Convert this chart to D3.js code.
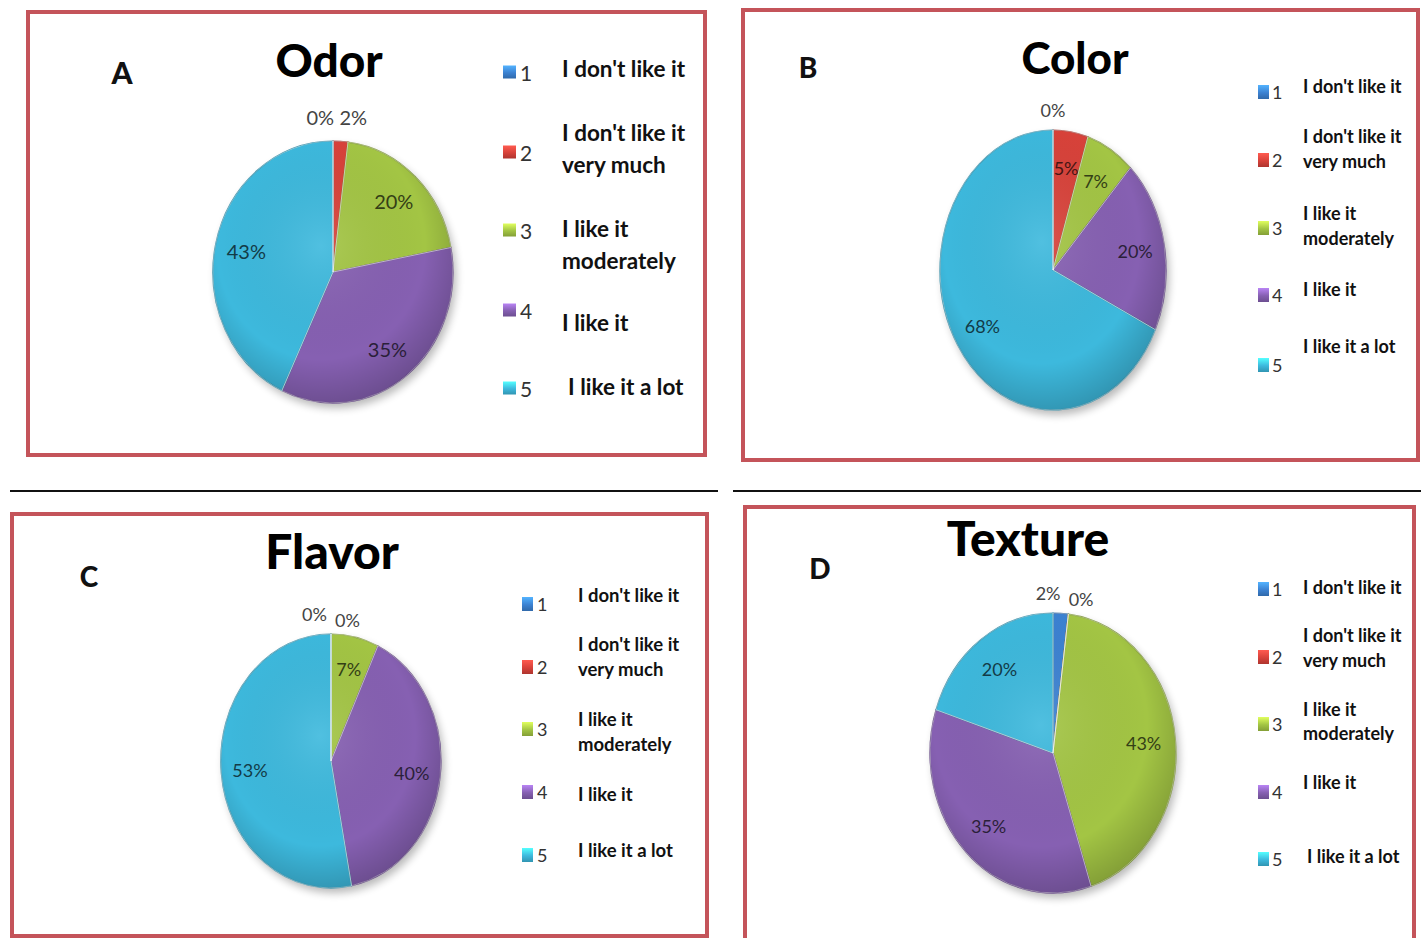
<!DOCTYPE html>
<html>
<head>
<meta charset="utf-8">
<script src="https://cdn.jsdelivr.net/npm/d3@7/dist/d3.min.js"></script>
<style>
  html, body { margin: 0; padding: 0; background: #fff; }
  svg { display: block; }
</style>
</head>
<body>
<svg id="chart" width="1421" height="938"></svg>
<script>
// Survey answers, one value per response category (percent of panellists)
const categories = ["1", "2", "3", "4", "5"];
const categoryLabels = [
  ["I don't like it"],
  ["I don't like it", "very much"],
  ["I like it", "moderately"],
  ["I like it"],
  ["I like it a lot"]
];
const chartTitles = ["Odor", "Color", "Flavor", "Texture"];
const panelLetters = ["A", "B", "C", "D"];
const odorValues = [0, 2, 20, 35, 43];
const colorValues = [0, 5, 7, 20, 68];
const flavorValues = [0, 0, 7, 40, 53];
const textureValues = [2, 0, 43, 35, 20];
const seriesValues = [odorValues, colorValues, flavorValues, textureValues];

// Office-style slice palette
const sliceColors = ["#3c82d2", "#d8423a", "#a3c544", "#8660b2", "#3db9dd"];

// Layout of the four framed panels
const panels = [
  { box: [28, 12, 705, 455], cx: 333, cy: 272, rx: 120, ry: 131,
    title: [329, 77, 46], letter: [122, 84, 30], labelSize: 20,
    legend: { swX: 503, swW: 13, swH: 13, numX: 520, numSize: 21, textX: 562, textSize: 22.5,
      rows: [[72, [68]], [152, [132, 164]], [230, [228, 260]], [310, [322]], [388, [386], 6]] } },
  { box: [743, 10, 1418, 460], cx: 1053, cy: 270, rx: 113, ry: 140,
    title: [1075, 74, 44], letter: [808, 78, 28], labelSize: 18,
    legend: { swX: 1258, swW: 11, swH: 14, numX: 1272, numSize: 18, textX: 1303, textSize: 18,
      rows: [[92, [86]], [160, [136, 161]], [228, [213, 238]], [295, [289]], [365, [346]]] } },
  { box: [12, 514, 707, 936], cx: 331, cy: 761, rx: 110, ry: 127,
    title: [332, 569, 48], letter: [89, 587, 28], labelSize: 18,
    legend: { swX: 522, swW: 11, swH: 14, numX: 537, numSize: 18, textX: 578, textSize: 18.5,
      rows: [[604, [595]], [667, [644, 669]], [729, [719, 744]], [792, [794]], [855, [850]]] } },
  { box: [745, 507, 1414, 970], cx: 1053, cy: 753, rx: 123, ry: 140,
    title: [1028, 556, 48], letter: [820, 579, 28], labelSize: 18,
    legend: { swX: 1258, swW: 11, swH: 14, numX: 1272, numSize: 18, textX: 1303, textSize: 18,
      rows: [[589, [587]], [657, [635, 660]], [724, [709, 733]], [792, [782]], [859, [856], 4]] } }
];

const svg = d3.select("#chart");
const defs = svg.append("defs");

// soft drop shadow under each pie
defs.append("filter").attr("id", "pieShadow")
  .attr("x", "-20%").attr("y", "-20%").attr("width", "140%").attr("height", "140%")
  .append("feGaussianBlur").attr("stdDeviation", 4);

// rim darkening over the pie face
const rim = defs.append("radialGradient").attr("id", "pieRim")
  .attr("cx", "45%").attr("cy", "40%").attr("r", "62%");
rim.append("stop").attr("offset", "0%").attr("stop-color", "#fff").attr("stop-opacity", 0.1);
rim.append("stop").attr("offset", "70%").attr("stop-color", "#000").attr("stop-opacity", 0);
rim.append("stop").attr("offset", "100%").attr("stop-color", "#000").attr("stop-opacity", 0.2);

// glossy legend swatches
sliceColors.forEach((c, i) => {
  const g = defs.append("linearGradient").attr("id", "sw" + i)
    .attr("x1", 0).attr("y1", 0).attr("x2", 0).attr("y2", 1);
  g.append("stop").attr("offset", "0%").attr("stop-color", d3.color(c).brighter(0.9));
  g.append("stop").attr("offset", "55%").attr("stop-color", c);
  g.append("stop").attr("offset", "100%").attr("stop-color", d3.color(c).darker(0.6));
});

// separators between the top and bottom rows
svg.append("line").attr("x1", 10).attr("x2", 718).attr("y1", 491).attr("y2", 491)
  .attr("stroke", "#111").attr("stroke-width", 2);
svg.append("line").attr("x1", 733).attr("x2", 1421).attr("y1", 491).attr("y2", 491)
  .attr("stroke", "#111").attr("stroke-width", 2);

const pie = d3.pie().sort(null).value(d => d);
const unitArc = d3.arc().innerRadius(0).outerRadius(1);
const fmt = v => v + "%";

panels.forEach((p, k) => {
  const values = seriesValues[k];
  const g = svg.append("g");

  // red frame
  g.append("rect")
    .attr("x", p.box[0]).attr("y", p.box[1])
    .attr("width", p.box[2] - p.box[0]).attr("height", p.box[3] - p.box[1])
    .attr("fill", "none").attr("stroke", "#c4545a").attr("stroke-width", 4);

  // title and panel letter
  g.append("text").attr("x", p.title[0]).attr("y", p.title[1])
    .attr("text-anchor", "middle").attr("font-family", "Lato, 'Open Sans', sans-serif")
    .attr("font-weight", 900).attr("font-size", p.title[2]).attr("fill", "#000")
    .text(chartTitles[k]);
  g.append("text").attr("x", p.letter[0]).attr("y", p.letter[1])
    .attr("text-anchor", "middle").attr("font-family", "Lato, 'Open Sans', sans-serif")
    .attr("font-weight", 900).attr("font-size", p.letter[2]).attr("fill", "#111")
    .text(panelLetters[k]);

  // pie (unit arcs stretched into the ellipse)
  const arcs = pie(values);
  g.append("ellipse").attr("cx", p.cx + 3).attr("cy", p.cy + 5)
    .attr("rx", p.rx).attr("ry", p.ry)
    .attr("fill", "#000").attr("opacity", 0.28).attr("filter", "url(#pieShadow)");

  const pg = g.append("g").attr("transform", `translate(${p.cx},${p.cy}) scale(${p.rx},${p.ry})`);
  pg.selectAll("path.slice").data(arcs).join("path")
    .attr("class", "slice")
    .attr("d", unitArc)
    .attr("fill", (d, i) => sliceColors[i])
    .attr("stroke", (d, i) => d3.color(sliceColors[i]).darker(0.8))
    .attr("stroke-width", 1.2)
    .attr("vector-effect", "non-scaling-stroke");
  pg.append("circle").attr("r", 1).attr("fill", "url(#pieRim)").attr("pointer-events", "none");
  pg.selectAll("path.edge").data(arcs).join("path")
    .attr("class", "edge")
    .attr("d", unitArc)
    .attr("fill", "none")
    .attr("stroke", "#fff").attr("stroke-opacity", 0.35)
    .attr("stroke-width", 1)
    .attr("vector-effect", "non-scaling-stroke");

  // data labels: inside the slice, small slices sit above the pie
  const midAngle = d => (d.startAngle + d.endAngle) / 2;
  const outside = arcs.filter(d => d.value <= 2);
  const meanX = d3.mean(outside, d => p.rx * Math.sin(midAngle(d))) || 0;
  const spacing = 33;
  const labelPos = d => {
    const idx = outside.indexOf(d);
    if (idx >= 0) {
      const off = (idx - (outside.length - 1) / 2) * spacing;
      const dy = k === 0 ? 0 : idx * 6;
      return [p.cx + meanX + off, p.cy - p.ry - (k === 0 ? 24 : 20) + dy];
    }
    const a = midAngle(d), f = 0.74;
    return [p.cx + f * p.rx * Math.sin(a), p.cy - f * p.ry * Math.cos(a)];
  };
  g.selectAll("text.lbl").data(arcs).join("text")
    .attr("class", "lbl")
    .attr("x", d => labelPos(d)[0]).attr("y", d => labelPos(d)[1])
    .attr("text-anchor", "middle").attr("dominant-baseline", "central")
    .attr("font-family", "Lato, 'Open Sans', sans-serif")
    .attr("font-size", p.labelSize)
    .attr("fill", (d, i) => outside.includes(d) ? "#444" : d3.color(sliceColors[i]).darker(3.2))
    .text(d => fmt(d.value));

  // legend
  const L = p.legend;
  const rows = g.selectAll("g.leg").data(categories).join("g").attr("class", "leg");
  rows.append("rect")
    .attr("x", L.swX).attr("y", (d, i) => L.rows[i][0] - L.swH / 2)
    .attr("width", L.swW).attr("height", L.swH)
    .attr("fill", (d, i) => `url(#sw${i})`);
  rows.append("text")
    .attr("x", L.numX).attr("y", (d, i) => L.rows[i][0])
    .attr("dominant-baseline", "central")
    .attr("font-family", "Lato, 'Open Sans', sans-serif")
    .attr("font-size", L.numSize).attr("fill", "#333")
    .text(d => d);
  rows.each(function (d, i) {
    const r = L.rows[i];
    const t = d3.select(this).append("text")
      .attr("font-family", "Lato, 'Open Sans', sans-serif")
      .attr("font-weight", 700).attr("font-size", L.textSize).attr("fill", "#111");
    categoryLabels[i].forEach((line, j) => {
      t.append("tspan").attr("x", L.textX + (r[2] || 0)).attr("y", r[1][j])
        .attr("dominant-baseline", "central").text(line);
    });
  });
});
</script>
</body>
</html>
